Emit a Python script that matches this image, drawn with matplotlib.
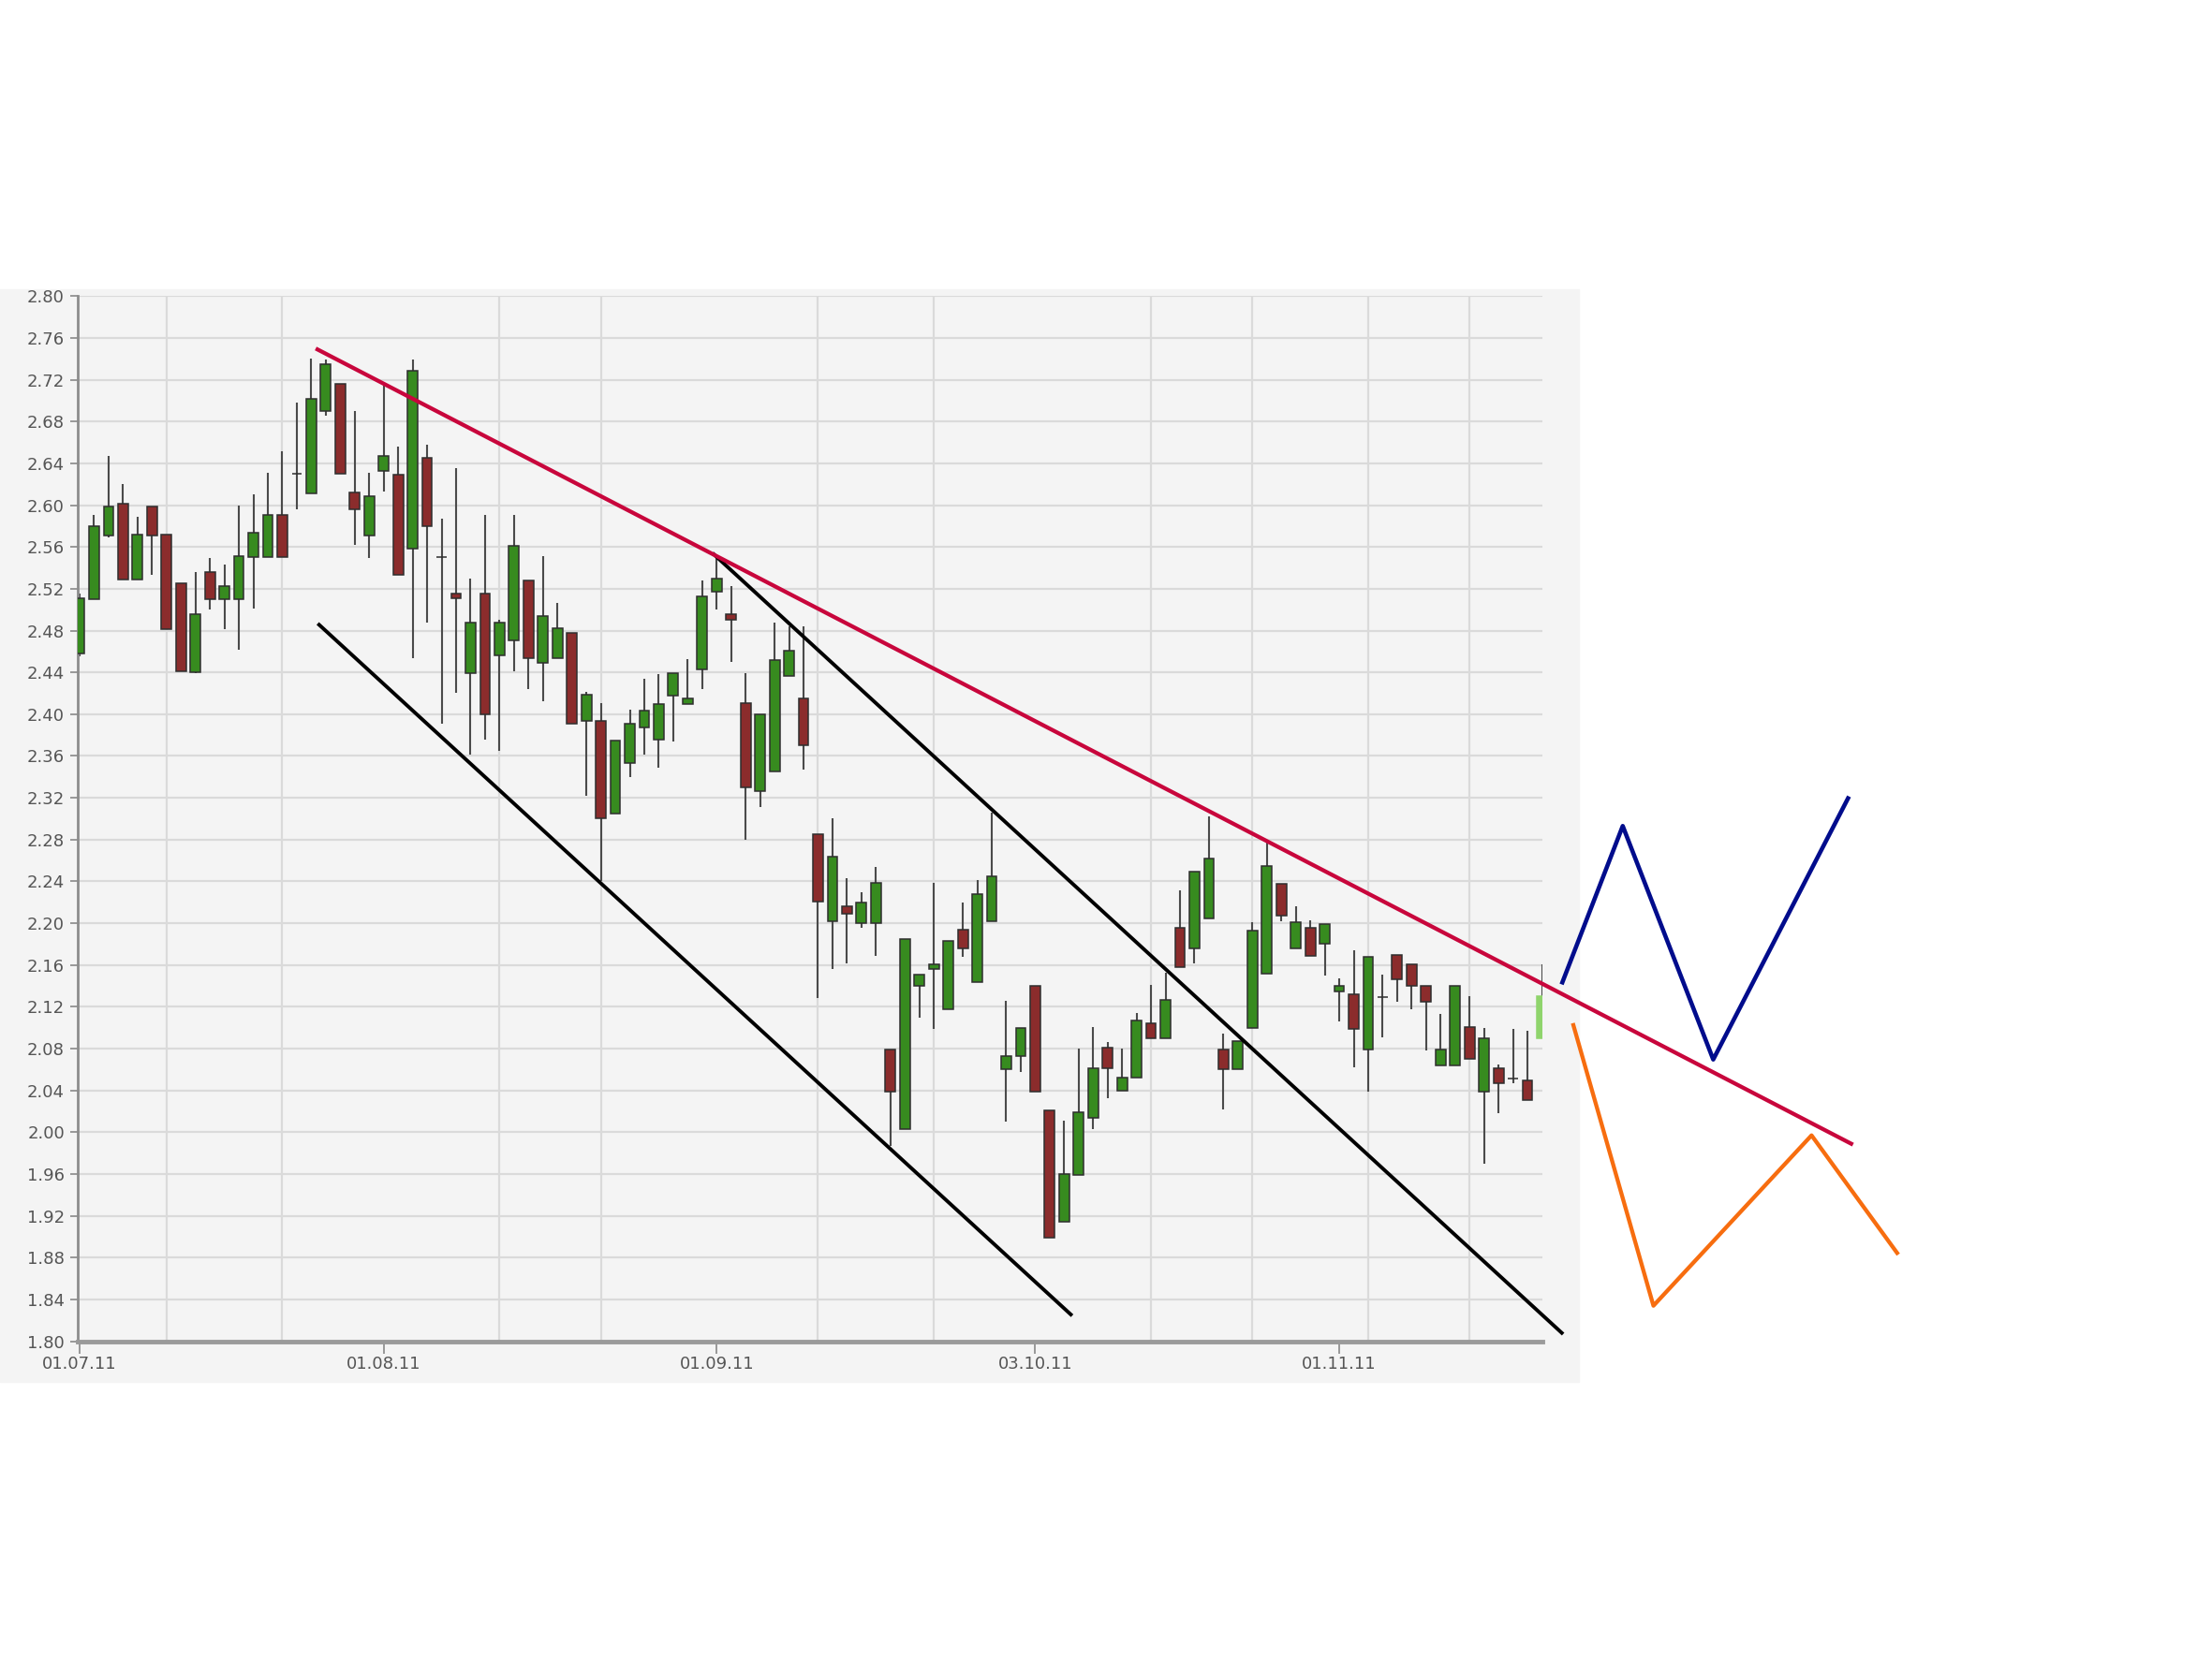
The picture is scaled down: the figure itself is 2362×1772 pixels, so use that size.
import numpy as np
import matplotlib
matplotlib.use('Agg')
import matplotlib.pyplot as plt
from matplotlib.patches import Rectangle

# daily OHLC, trading day index 0 = 01.07.11
opens = [2.458, 2.510, 2.571, 2.601, 2.529, 2.599, 2.572, 2.525, 2.440, 2.536,
         2.510, 2.510, 2.550, 2.550, 2.591, 2.630, 2.611, 2.690, 2.716, 2.612,
         2.571, 2.633, 2.629, 2.558, 2.645, 2.550, 2.515, 2.439, 2.515, 2.456,
         2.471, 2.528, 2.449, 2.454, 2.478, 2.394, 2.394, 2.305, 2.353, 2.387,
         2.376, 2.418, 2.410, 2.443, 2.517, 2.496, 2.411, 2.326, 2.345, 2.437,
         2.415, 2.285, 2.202, 2.216, 2.200, 2.200, 2.079, 2.003, 2.140, 2.156,
         2.118, 2.194, 2.144, 2.202, 2.060, 2.073, 2.140, 2.021, 1.914, 1.959,
         2.014, 2.081, 2.040, 2.052, 2.104, 2.090, 2.196, 2.176, 2.205, 2.079,
         2.060, 2.100, 2.152, 2.238, 2.176, 2.196, 2.180, 2.135, 2.132, 2.079,
         2.129, 2.170, 2.161, 2.140, 2.064, 2.064, 2.101, 2.039, 2.061, 2.051,
         2.050, 2.090]
highs = [2.515, 2.591, 2.647, 2.620, 2.589, 2.599, 2.572, 2.525, 2.536, 2.549,
         2.543, 2.600, 2.610, 2.631, 2.652, 2.698, 2.740, 2.739, 2.716, 2.690,
         2.631, 2.715, 2.656, 2.739, 2.658, 2.587, 2.635, 2.530, 2.591, 2.490,
         2.591, 2.528, 2.551, 2.506, 2.478, 2.421, 2.411, 2.375, 2.404, 2.434,
         2.438, 2.439, 2.453, 2.528, 2.549, 2.523, 2.439, 2.400, 2.488, 2.484,
         2.484, 2.285, 2.300, 2.243, 2.230, 2.254, 2.079, 2.185, 2.151, 2.239,
         2.183, 2.220, 2.241, 2.306, 2.126, 2.100, 2.140, 2.021, 2.011, 2.080,
         2.101, 2.086, 2.080, 2.114, 2.141, 2.153, 2.231, 2.249, 2.302, 2.094,
         2.087, 2.201, 2.277, 2.238, 2.216, 2.203, 2.199, 2.147, 2.174, 2.168,
         2.151, 2.170, 2.161, 2.140, 2.113, 2.140, 2.130, 2.100, 2.065, 2.099,
         2.097, 2.161]
lows = [2.455, 2.510, 2.569, 2.529, 2.529, 2.533, 2.481, 2.441, 2.439, 2.500,
        2.481, 2.462, 2.501, 2.550, 2.550, 2.596, 2.611, 2.686, 2.630, 2.562,
        2.549, 2.613, 2.533, 2.454, 2.488, 2.391, 2.420, 2.361, 2.376, 2.365,
        2.441, 2.424, 2.412, 2.454, 2.391, 2.322, 2.240, 2.305, 2.340, 2.361,
        2.349, 2.374, 2.410, 2.424, 2.500, 2.450, 2.280, 2.311, 2.345, 2.437,
        2.347, 2.128, 2.156, 2.162, 2.196, 2.169, 1.987, 2.003, 2.110, 2.099,
        2.118, 2.168, 2.144, 2.202, 2.010, 2.058, 2.039, 1.899, 1.914, 1.959,
        2.003, 2.033, 2.040, 2.052, 2.090, 2.090, 2.158, 2.162, 2.205, 2.022,
        2.060, 2.100, 2.152, 2.202, 2.176, 2.169, 2.150, 2.106, 2.062, 2.039,
        2.091, 2.125, 2.118, 2.078, 2.064, 2.064, 2.070, 1.970, 2.018, 2.047,
        2.031, 2.090]
closes = [2.511, 2.580, 2.599, 2.529, 2.572, 2.571, 2.481, 2.441, 2.496, 2.510,
          2.523, 2.551, 2.574, 2.591, 2.550, 2.630, 2.702, 2.735, 2.630, 2.596,
          2.609, 2.647, 2.533, 2.729, 2.580, 2.550, 2.511, 2.488, 2.400, 2.488,
          2.561, 2.454, 2.494, 2.482, 2.391, 2.419, 2.300, 2.375, 2.391, 2.403,
          2.410, 2.439, 2.415, 2.513, 2.530, 2.490, 2.330, 2.400, 2.452, 2.461,
          2.370, 2.221, 2.264, 2.209, 2.220, 2.239, 2.039, 2.185, 2.151, 2.161,
          2.183, 2.176, 2.228, 2.245, 2.073, 2.100, 2.039, 1.899, 1.960, 2.019,
          2.061, 2.061, 2.052, 2.107, 2.090, 2.127, 2.158, 2.249, 2.262, 2.060,
          2.087, 2.193, 2.255, 2.207, 2.201, 2.169, 2.199, 2.140, 2.099, 2.168,
          2.129, 2.146, 2.140, 2.125, 2.079, 2.140, 2.070, 2.090, 2.047, 2.051,
          2.031, 2.130]

date_pos = [0, 21, 44, 66, 87]
date_labels = ['01.07.11', '01.08.11', '01.09.11', '03.10.11', '01.11.11']
grid_days = [6, 14, 21, 29, 36, 44, 51, 59, 66, 74, 81, 89, 96]

# hand drawn lines, (day index, price)
resist_x = [16.43, 122.36]
resist_y = [2.749, 1.989]
chan1_x = [16.54, 68.46]
chan1_y = [2.4856, 1.8256]
chan2_x = [43.80, 102.37]
chan2_y = [2.553, 1.808]
blue_x = [102.41, 106.58, 112.83, 122.14]
blue_y = [2.1434, 2.293, 2.0696, 2.3195]
orange_x = [103.17, 108.70, 119.62, 125.53]
orange_y = [2.1025, 1.834, 1.997, 1.8845]

o = np.array(opens)
h = np.array(highs)
l = np.array(lows)
c = np.array(closes)
x = np.arange(len(o))

cols = np.where(c >= o, '#378b1f', '#8b2c2c').astype(object)
edges = np.array(['#2e2e2e'] * len(o), dtype=object)
cols[-1] = '#8fd46c'   # current day, still open
edges[-1] = '#8fd46c'

fig = plt.figure(figsize=(23.62, 17.72), dpi=100)
panel = Rectangle((0, 0.167), 0.714, 0.6587, transform=fig.transFigure,
                  color='#f4f4f4', zorder=-10)
fig.patches.append(panel)
ax = fig.add_axes([0.03508, 0.19153, 0.6622, 0.62997])
ax.set_zorder(1)
ax.set_facecolor('#f4f4f4')

ax.vlines(x, l, h, color='#4a4a4a', linewidth=1.5, zorder=2)
ax.bar(x, np.abs(c - o), bottom=np.minimum(o, c), width=0.7, color=list(cols),
       edgecolor=list(edges), linewidth=1.1, zorder=3)

ax.set_xlim(-0.14, 101.03)
ax.set_ylim(1.80, 2.80)

yt = np.arange(1.80, 2.8001, 0.04)
ax.set_yticks(yt)
ax.set_yticklabels(['%.2f' % v for v in yt])
ax.set_xticks(date_pos)
ax.set_xticklabels(date_labels)
ax.set_xticks(grid_days, minor=True)
ax.yaxis.grid(True, color='#dadada', linewidth=1.6, zorder=0)
ax.xaxis.grid(True, which='minor', color='#dadada', linewidth=1.6, zorder=0)
ax.set_axisbelow(True)

ax.tick_params(axis='y', length=6, width=1.2, color='#888888', labelsize=13,
               labelcolor='#555555', pad=4)
ax.tick_params(axis='x', which='major', length=9, width=1.2, color='#888888',
               labelsize=13, labelcolor='#555555', pad=2)
ax.tick_params(axis='x', which='minor', length=0)

for s in ['top', 'right']:
    ax.spines[s].set_visible(False)
ax.spines['left'].set_color('#8c8c8c')
ax.spines['left'].set_linewidth(2)
ax.spines['bottom'].set_color('#9a9a9a')
ax.spines['bottom'].set_linewidth(3.5)

ax.plot(chan1_x, chan1_y, color='black', lw=2.8, clip_on=False, zorder=5)
ax.plot(chan2_x, chan2_y, color='black', lw=2.8, clip_on=False, zorder=5)
ax.plot(resist_x, resist_y, color='#c8063c', lw=3.1, clip_on=False, zorder=6)
ax.plot(blue_x, blue_y, color='#000c8c', lw=3.3, clip_on=False, zorder=6)
ax.plot(orange_x, orange_y, color='#f76d0f', lw=3.1, clip_on=False, zorder=6)

fig.savefig('out.png', dpi=100, facecolor='white')
